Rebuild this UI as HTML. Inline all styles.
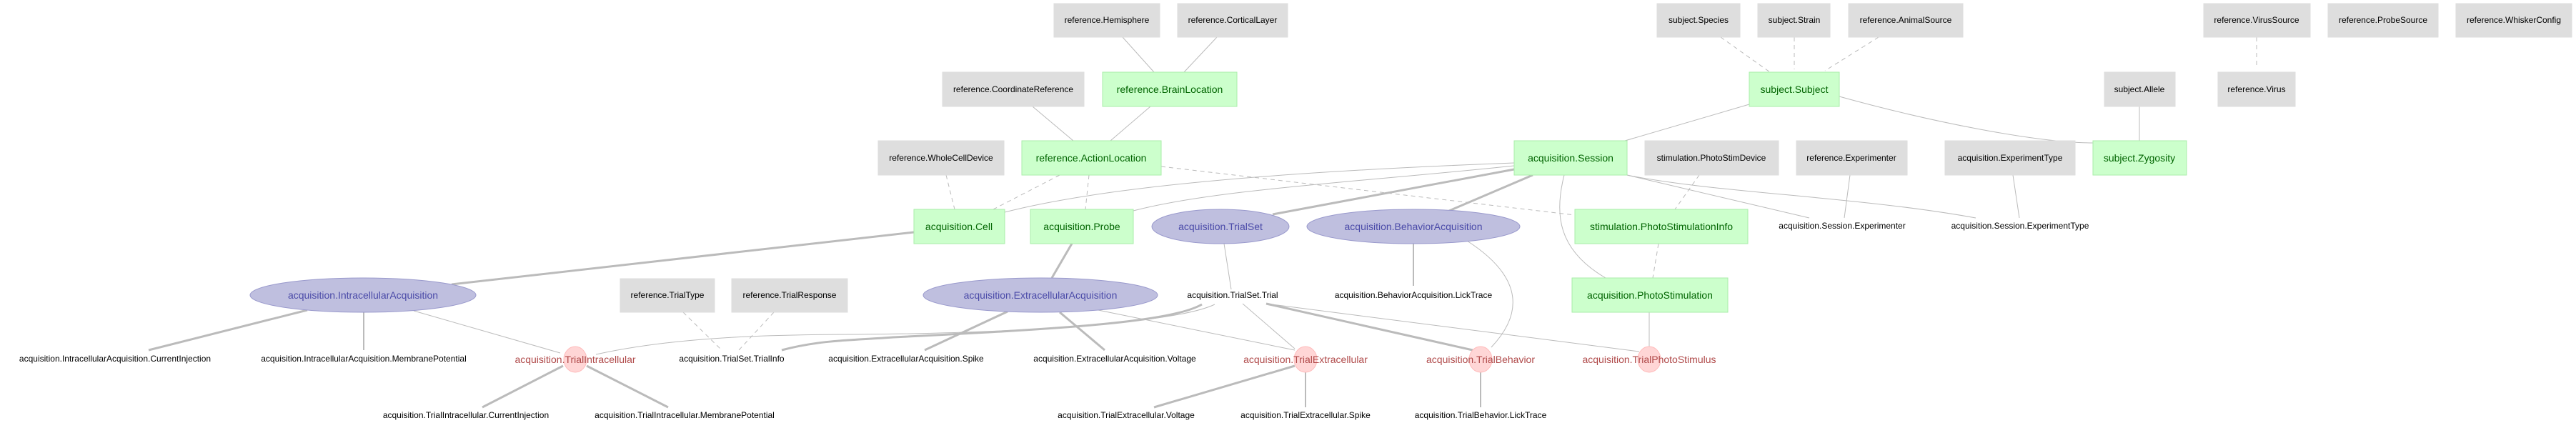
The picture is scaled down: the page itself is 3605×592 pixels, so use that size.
<!DOCTYPE html>
<html><head><meta charset="utf-8"><style>
html,body{margin:0;padding:0;background:#fff}
svg{display:block}
text{font-family:"Liberation Sans",Arial,sans-serif}
.g{fill:#dedede;stroke:#dedede}
.gr{fill:#ccffcc;stroke:#aaeeaa}
.bl{fill:#bfbfdf;stroke:#9999cc}
.pk{fill:#ffd6d6;stroke:#ffbbbb}
.t{font-size:12px;fill:#000;text-anchor:middle;dominant-baseline:central}
.tg{font-size:14px;fill:#006400;text-anchor:middle;dominant-baseline:central}
.tb{font-size:14px;fill:#4a4aa8;text-anchor:middle;dominant-baseline:central}
.tr{font-size:14px;fill:#b04a4a;text-anchor:middle;dominant-baseline:central}
.e{stroke:#bbb;fill:none;stroke-width:1}
.d{stroke:#bbb;fill:none;stroke-width:1;stroke-dasharray:6,5}
.k{stroke:#bbb;fill:none;stroke-width:3}
.m{stroke:#bbb;fill:none;stroke-width:2}
</style></head><body>
<svg width="3605" height="592" viewBox="0 0 3605 592">
<!-- edges -->
<line class="e" x1="1571" y1="52" x2="1615" y2="101"/>
<line class="e" x1="1703" y1="52" x2="1657" y2="101"/>
<line class="e" x1="1445" y1="149" x2="1502" y2="197"/>
<line class="e" x1="1610" y1="149" x2="1554" y2="197"/>
<line class="d" x1="1324" y1="245" x2="1336" y2="293"/>
<line class="d" x1="1483" y1="245" x2="1390" y2="293"/>
<line class="d" x1="1524" y1="245" x2="1519" y2="293"/>
<line class="d" x1="1625" y1="233" x2="2204" y2="301"/>
<path class="e" d="M2119,228 C1800,240 1550,260 1406,297"/>
<path class="e" d="M2119,232 C1900,255 1700,265 1586,295"/>
<line class="k" x1="2119" y1="237" x2="1781" y2="300"/>
<line class="k" x1="2145" y1="245" x2="2028" y2="295"/>
<path class="e" d="M2189,245 C2175,300 2180,350 2247,389"/>
<line class="e" x1="2277" y1="245" x2="2532" y2="305"/>
<path class="e" d="M2277,245 C2400,270 2600,275 2765,305"/>
<line class="e" x1="2274" y1="197" x2="2448" y2="146"/>
<path class="e" d="M2574,135 C2700,170 2850,200 2929,200"/>
<line class="d" x1="2408" y1="52" x2="2477" y2="101"/>
<line class="d" x1="2511" y1="52" x2="2511" y2="97"/>
<line class="d" x1="2629" y1="52" x2="2554" y2="99"/>
<line class="d" x1="2378" y1="245" x2="2344" y2="293"/>
<line class="d" x1="2321" y1="341" x2="2313" y2="389"/>
<line class="e" x1="2589" y1="245" x2="2581" y2="305"/>
<line class="e" x1="2817" y1="245" x2="2826" y2="305"/>
<line class="e" x1="2994" y1="149" x2="2994" y2="197"/>
<line class="d" x1="3158" y1="52" x2="3158" y2="94"/>
<line class="k" x1="1279" y1="325" x2="632" y2="398"/>
<line class="k" x1="1500" y1="341" x2="1472" y2="389"/>
<line class="e" x1="1713" y1="341" x2="1723" y2="405"/>
<line class="m" x1="1978" y1="341" x2="1978" y2="400"/>
<path class="e" d="M2053,337 C2120,380 2140,430 2087,486"/>
<line class="e" x1="2308" y1="437" x2="2308" y2="486"/>
<line class="k" x1="430" y1="434" x2="208" y2="490"/>
<line class="m" x1="509" y1="437" x2="509" y2="490"/>
<line class="e" x1="579" y1="435" x2="784" y2="494"/>
<line class="k" x1="788" y1="512" x2="675" y2="570"/>
<line class="k" x1="821" y1="512" x2="935" y2="570"/>
<line class="d" x1="956" y1="437" x2="1010" y2="490"/>
<line class="d" x1="1083" y1="437" x2="1034" y2="490"/>
<path class="e" d="M834,496 C950,470 1100,468 1200,468 C1450,466 1650,450 1700,426"/>
<path class="k" d="M1094,490 C1150,475 1200,476 1250,472 C1500,460 1640,450 1682,426"/>
<line class="k" x1="1410" y1="436" x2="1294" y2="490"/>
<line class="k" x1="1483" y1="437" x2="1546" y2="490"/>
<line class="e" x1="1537" y1="434" x2="1812" y2="490"/>
<line class="e" x1="1739" y1="425" x2="1812" y2="488"/>
<line class="k" x1="1772" y1="425" x2="2061" y2="490"/>
<line class="e" x1="1772" y1="425" x2="2294" y2="492"/>
<line class="k" x1="1812" y1="512" x2="1615" y2="570"/>
<line class="m" x1="1827" y1="521" x2="1827" y2="570"/>
<line class="m" x1="2072" y1="521" x2="2072" y2="570"/>

<!-- grey boxes -->
<rect class="g" x="1475" y="5" width="148" height="47"/><text class="t" x="1549" y="28">reference.Hemisphere</text>
<rect class="g" x="1648" y="5" width="154" height="47"/><text class="t" x="1725" y="28">reference.CorticalLayer</text>
<rect class="g" x="2319" y="5" width="116" height="47"/><text class="t" x="2377" y="28">subject.Species</text>
<rect class="g" x="2460" y="5" width="101" height="47"/><text class="t" x="2511" y="28">subject.Strain</text>
<rect class="g" x="2587" y="5" width="160" height="47"/><text class="t" x="2667" y="28">reference.AnimalSource</text>
<rect class="g" x="3084" y="5" width="149" height="47"/><text class="t" x="3158" y="28">reference.VirusSource</text>
<rect class="g" x="3258" y="5" width="154" height="47"/><text class="t" x="3335" y="28">reference.ProbeSource</text>
<rect class="g" x="3437" y="5" width="162" height="47"/><text class="t" x="3518" y="28">reference.WhiskerConfig</text>
<rect class="g" x="1319" y="101" width="198" height="48"/><text class="t" x="1418" y="125">reference.CoordinateReference</text>
<rect class="g" x="2945" y="101" width="99" height="48"/><text class="t" x="2994" y="125">subject.Allele</text>
<rect class="g" x="3104" y="101" width="108" height="48"/><text class="t" x="3158" y="125">reference.Virus</text>
<rect class="g" x="1229" y="197" width="176" height="48"/><text class="t" x="1317" y="221">reference.WholeCellDevice</text>
<rect class="g" x="2302" y="197" width="187" height="48"/><text class="t" x="2395" y="221">stimulation.PhotoStimDevice</text>
<rect class="g" x="2514" y="197" width="155" height="48"/><text class="t" x="2591" y="221">reference.Experimenter</text>
<rect class="g" x="2722" y="197" width="182" height="48"/><text class="t" x="2813" y="221">acquisition.ExperimentType</text>
<rect class="g" x="868" y="390" width="132" height="47"/><text class="t" x="934" y="413">reference.TrialType</text>
<rect class="g" x="1024" y="390" width="162" height="47"/><text class="t" x="1105" y="413">reference.TrialResponse</text>

<!-- green boxes -->
<rect class="gr" x="1543" y="101" width="188" height="48"/><text class="tg" x="1637" y="125">reference.BrainLocation</text>
<rect class="gr" x="2448" y="101" width="126" height="48"/><text class="tg" x="2511" y="125">subject.Subject</text>
<rect class="gr" x="1430" y="197" width="195" height="48"/><text class="tg" x="1527" y="221">reference.ActionLocation</text>
<rect class="gr" x="2119" y="197" width="158" height="48"/><text class="tg" x="2198" y="221">acquisition.Session</text>
<rect class="gr" x="2929" y="197" width="131" height="48"/><text class="tg" x="2994" y="221">subject.Zygosity</text>
<rect class="gr" x="1279" y="293" width="127" height="48"/><text class="tg" x="1342" y="317">acquisition.Cell</text>
<rect class="gr" x="1442" y="293" width="144" height="48"/><text class="tg" x="1514" y="317">acquisition.Probe</text>
<rect class="gr" x="2204" y="293" width="242" height="48"/><text class="tg" x="2325" y="317">stimulation.PhotoStimulationInfo</text>
<rect class="gr" x="2200" y="389" width="218" height="48"/><text class="tg" x="2309" y="413">acquisition.PhotoStimulation</text>

<!-- blue ellipses -->
<ellipse class="bl" cx="1708" cy="317" rx="96" ry="24"/><text class="tb" x="1708" y="317">acquisition.TrialSet</text>
<ellipse class="bl" cx="1978" cy="317" rx="149" ry="24"/><text class="tb" x="1978" y="317">acquisition.BehaviorAcquisition</text>
<ellipse class="bl" cx="508" cy="413" rx="158" ry="24"/><text class="tb" x="508" y="413">acquisition.IntracellularAcquisition</text>
<ellipse class="bl" cx="1456" cy="413" rx="164" ry="24"/><text class="tb" x="1456" y="413">acquisition.ExtracellularAcquisition</text>

<!-- pink -->
<ellipse class="pk" cx="805" cy="503" rx="16" ry="18"/><text class="tr" x="805" y="503">acquisition.TrialIntracellular</text>
<ellipse class="pk" cx="1827" cy="503" rx="16" ry="18"/><text class="tr" x="1827" y="503">acquisition.TrialExtracellular</text>
<ellipse class="pk" cx="2072" cy="503" rx="16" ry="18"/><text class="tr" x="2072" y="503">acquisition.TrialBehavior</text>
<ellipse class="pk" cx="2308" cy="503" rx="16" ry="18"/><text class="tr" x="2308" y="503">acquisition.TrialPhotoStimulus</text>

<!-- plain labels -->
<text class="t" x="2578" y="316">acquisition.Session.Experimenter</text>
<text class="t" x="2827" y="316">acquisition.Session.ExperimentType</text>
<text class="t" x="1725" y="413">acquisition.TrialSet.Trial</text>
<text class="t" x="1978" y="413">acquisition.BehaviorAcquisition.LickTrace</text>
<text class="t" x="161" y="502">acquisition.IntracellularAcquisition.CurrentInjection</text>
<text class="t" x="509" y="502">acquisition.IntracellularAcquisition.MembranePotential</text>
<text class="t" x="1024" y="502">acquisition.TrialSet.TrialInfo</text>
<text class="t" x="1268" y="502">acquisition.ExtracellularAcquisition.Spike</text>
<text class="t" x="1560" y="502">acquisition.ExtracellularAcquisition.Voltage</text>
<text class="t" x="652" y="581">acquisition.TrialIntracellular.CurrentInjection</text>
<text class="t" x="958" y="581">acquisition.TrialIntracellular.MembranePotential</text>
<text class="t" x="1576" y="581">acquisition.TrialExtracellular.Voltage</text>
<text class="t" x="1827" y="581">acquisition.TrialExtracellular.Spike</text>
<text class="t" x="2072" y="581">acquisition.TrialBehavior.LickTrace</text>
</svg>
</body></html>
